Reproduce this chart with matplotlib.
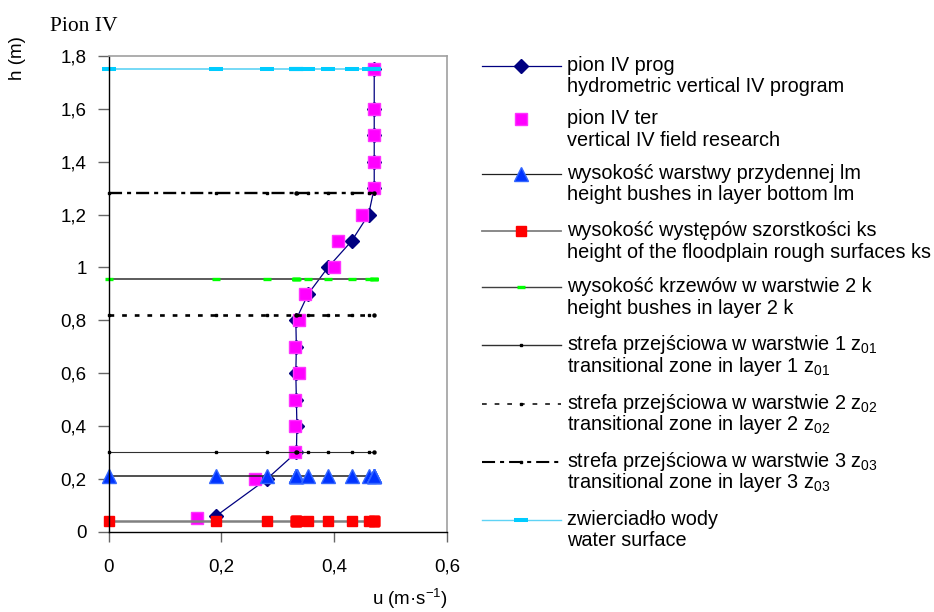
import matplotlib.pyplot as plt

plt.rcParams['font.family'] = ['Liberation Sans', 'DejaVu Sans']
plt.rcParams['mathtext.fontset'] = 'custom'
plt.rcParams['mathtext.rm'] = 'Liberation Sans'
plt.rcParams['lines.scale_dashes'] = False

# pion IV - computed velocity profile (u in m/s, h in m)
h_prog = [0.06, 0.2, 0.3, 0.4, 0.5, 0.6, 0.7, 0.8, 0.9, 1.0, 1.1, 1.2, 1.3, 1.4, 1.5, 1.6, 1.75]
u_prog = [0.191, 0.281, 0.333, 0.334, 0.333, 0.332, 0.333, 0.332, 0.354, 0.389,
          0.431, 0.461, 0.471, 0.471, 0.471, 0.471, 0.471]

# pion IV - field measurements
h_ter = [0.05, 0.2, 0.3, 0.4, 0.5, 0.6, 0.7, 0.8, 0.9, 1.0, 1.1, 1.2, 1.3, 1.4, 1.5, 1.6, 1.75]
u_ter = [0.157, 0.260, 0.330, 0.330, 0.330, 0.337, 0.330, 0.337, 0.349, 0.400,
         0.407, 0.449, 0.470, 0.470, 0.470, 0.470, 0.470]

# characteristic levels, drawn across the profile at the computed velocities
u_levels = [0.0] + u_prog
h_lm = 0.21
h_ks = 0.04
h_k = 0.955
h_z01 = 0.30
h_z02 = 0.82
h_z03 = 1.28
h_water = 1.75

x_ticks = [0, 0.2, 0.4, 0.6]
y_ticks = [0, 0.2, 0.4, 0.6, 0.8, 1.0, 1.2, 1.4, 1.6, 1.8]

labels = [
    ('pion IV prog', 'hydrometric vertical IV program'),
    ('pion IV ter', 'vertical IV field research'),
    ('wysokość warstwy przydennej lm', 'height bushes in layer bottom lm'),
    ('wysokość występów szorstkości ks', 'height of the floodplain rough surfaces ks'),
    ('wysokość krzewów w warstwie 2 k', 'height bushes in layer 2 k'),
    ('strefa przejściowa w warstwie 1 z$\\mathregular{_{01}}$',
     'transitional zone in layer 1 z$\\mathregular{_{01}}$'),
    ('strefa przejściowa w warstwie 2 z$\\mathregular{_{02}}$',
     'transitional zone in layer 2 z$\\mathregular{_{02}}$'),
    ('strefa przejściowa w warstwie 3 z$\\mathregular{_{03}}$',
     'transitional zone in layer 3 z$\\mathregular{_{03}}$'),
    ('zwierciadło wody', 'water surface'),
]

# line and marker styles of each series (same order as labels)
styles = [
    dict(color='#000080', lw=0.9, marker='D', ms=7.5, mfc='#000080', mec='#000080'),
    dict(ls='none', marker='s', ms=8.4, mfc='#ff00ff', mec='#ff33ff'),
    dict(color='#202020', lw=1.1, marker='^', ms=9.6, mfc='#0033ff', mec='#3366ff'),
    dict(color='#808080', lw=1.8, marker='s', ms=7.9, mfc='#ff0000', mec='#ff0000'),
    dict(color='#404040', lw=1.2, marker='_', ms=6.0, mew=2.4, mec='#00ff00'),
    dict(color='#303030', lw=0.8, marker='s', ms=2.0, mfc='black', mec='black'),
    dict(color='black', lw=1.9, ls=(0, (3.4, 5.7)), marker='s', ms=2.0, mfc='black', mec='black'),
    dict(color='black', lw=1.7, ls=(0, (9.4, 3.6, 2.9, 3.6)), marker='s', ms=2.0,
         mfc='black', mec='black'),
    dict(color='#5fd3f5', lw=1.2, marker='_', ms=9.6, mew=2.9, mec='#00ccff'),
]

# the key uses thinner strokes than the plot
key_lw = [0.9, 0, 0.9, 1.3, 1.0, 1.0, 1.1, 1.5, 1.0]

fig = plt.figure(figsize=(9.34, 6.12), dpi=100)
ax = fig.add_axes([108.5 / 934, 1 - 531.7 / 612, 338.5 / 934, 475.7 / 612])

series = [
    (u_prog, h_prog),
    (u_ter, h_ter),
    (u_levels, [h_lm] * len(u_levels)),
    (u_levels, [h_ks] * len(u_levels)),
    (u_levels, [h_k] * len(u_levels)),
    (u_levels, [h_z01] * len(u_levels)),
    (u_levels, [h_z02] * len(u_levels)),
    (u_levels, [h_z03] * len(u_levels)),
    (u_levels, [h_water] * len(u_levels)),
]
for (x, y), st in zip(series, styles):
    ax.plot(x, y, clip_on=False, **st)

ax.set_xlim(0, 0.6)
ax.set_ylim(0, 1.8)
ax.set_xticks(x_ticks)
ax.set_yticks(y_ticks)
ax.set_xticklabels([('%g' % v).replace('.', ',') for v in x_ticks], fontsize=13.5)
ax.set_yticklabels([('%g' % v).replace('.', ',') for v in y_ticks], fontsize=13.5)
ax.tick_params(axis='x', direction='out', length=7.3, width=1, color='#666666', pad=12)
ax.tick_params(axis='y', direction='out', length=7.7, width=1, color='#666666', pad=8)
for side in ['left', 'bottom']:
    ax.spines[side].set_color('black')
    ax.spines[side].set_linewidth(1)
for side in ['top', 'right']:
    ax.spines[side].set_color('#a0a0a0')
    ax.spines[side].set_linewidth(1.2)

fig.text(17 / 934, 1 - 58 / 612, 'h (m)', rotation=90, fontsize=13.5, ha='center', va='center')
fig.text(410 / 934, 1 - 599 / 612, 'u (m·s$^{\\mathregular{-1}}$)', fontsize=13.5,
         ha='center', va='center')
fig.text(117 / 934, 1 - 31 / 612, 'Pion IV', family='Liberation Serif', fontsize=15.5,
         ha='right', va='baseline')

# key drawn beside the plot, in pixel coordinates
lax = fig.add_axes([0, 0, 1, 1], zorder=-1)
lax.set_xlim(0, 934)
lax.set_ylim(612, 0)
lax.axis('off')
baselines = [71, 124, 179, 236, 292, 350, 409, 467, 525]
for (l1, l2), st, yb, klw in zip(labels, styles, baselines, key_lw):
    yh = yb - 5
    if st.get('ls') != 'none':
        lax.plot([482, 561], [yh, yh], color=st['color'], lw=klw, ls=st.get('ls', '-'))
    mark_st = {k: v for k, v in st.items() if k not in ('color', 'lw', 'ls')}
    lax.plot([521], [yh], ls='none', **mark_st)
    lax.text(567, yb, l1, fontsize=14.3, va='baseline')
    lax.text(567, yb + 21.5, l2, fontsize=14.3, va='baseline')

fig.savefig('out.png', dpi=100)
